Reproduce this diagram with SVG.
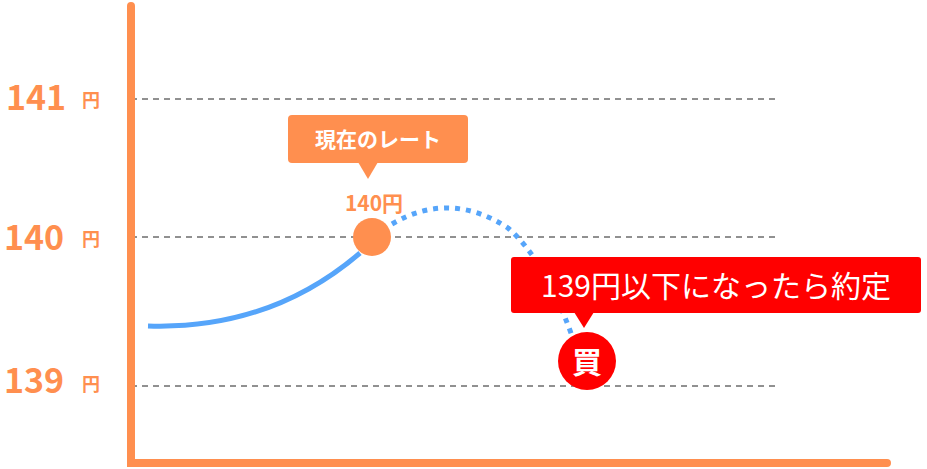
<svg xmlns="http://www.w3.org/2000/svg" width="927" height="469" viewBox="0 0 927 469">
<style>
.ax{font-family:"Noto Sans CJK JP","Liberation Sans",sans-serif;font-weight:bold;fill:#FF8F4F}
.dash{stroke:#222;stroke-width:1;stroke-dasharray:6,5}
</style>
<g id="grid">
<line class="dash" x1="131" y1="99" x2="776" y2="99"/>
<line class="dash" x1="131" y1="237" x2="776" y2="237"/>
<line class="dash" x1="131" y1="386" x2="776" y2="386"/>
</g>
<g id="axes" stroke="#FF8F4F" stroke-width="8" stroke-linecap="round" fill="none">
<path d="M131,6 V463 H887"/>
</g>
<g id="labels">
<text class="ax" x="6" y="110" font-size="34">141</text><text class="ax" x="82" y="107" font-size="18">円</text>
<text class="ax" x="4" y="250" font-size="34">140</text><text class="ax" x="82" y="246" font-size="18">円</text>
<text class="ax" x="4" y="393" font-size="34">139</text><text class="ax" x="82" y="391" font-size="18">円</text>
</g>
<g id="connectors" fill="none" stroke="#56A5FA" stroke-width="5">
<path d="M148,326 Q270,330 360,253"/>
<path d="M392,224 Q450,190 508,228 Q545,260 572,336" stroke-dasharray="5,6"/>
</g>
<g id="current">
<rect x="288" y="115" width="180" height="48" rx="4" fill="#FF8F4F"/>
<path d="M358,162 L368,179 L378,162 Z" fill="#FF8F4F"/>
<text x="378" y="147" font-size="21" font-weight="bold" fill="#fff" text-anchor="middle" font-family="Noto Sans CJK JP,sans-serif">現在のレート</text>
<text x="374" y="211" font-size="21" font-weight="bold" fill="#FF8F4F" text-anchor="middle" font-family="Noto Sans CJK JP,sans-serif">140円</text>
<circle cx="372" cy="237" r="19" fill="#FF8F4F"/>
</g>
<g id="buy">
<rect x="511" y="257" width="410" height="56" rx="3" fill="#FF0000"/>
<path d="M574,312 L584,328 L594,312 Z" fill="#FF0000"/>
<text x="716" y="297" font-size="30" fill="#fff" text-anchor="middle" font-family="Noto Sans CJK JP,sans-serif">139円以下になったら約定</text>
<circle cx="587" cy="361" r="29" fill="#FF0000"/>
<text x="587" y="373" font-size="30" font-weight="bold" fill="#fff" text-anchor="middle" font-family="Noto Sans CJK JP,sans-serif">買</text>
</g>
</svg>
